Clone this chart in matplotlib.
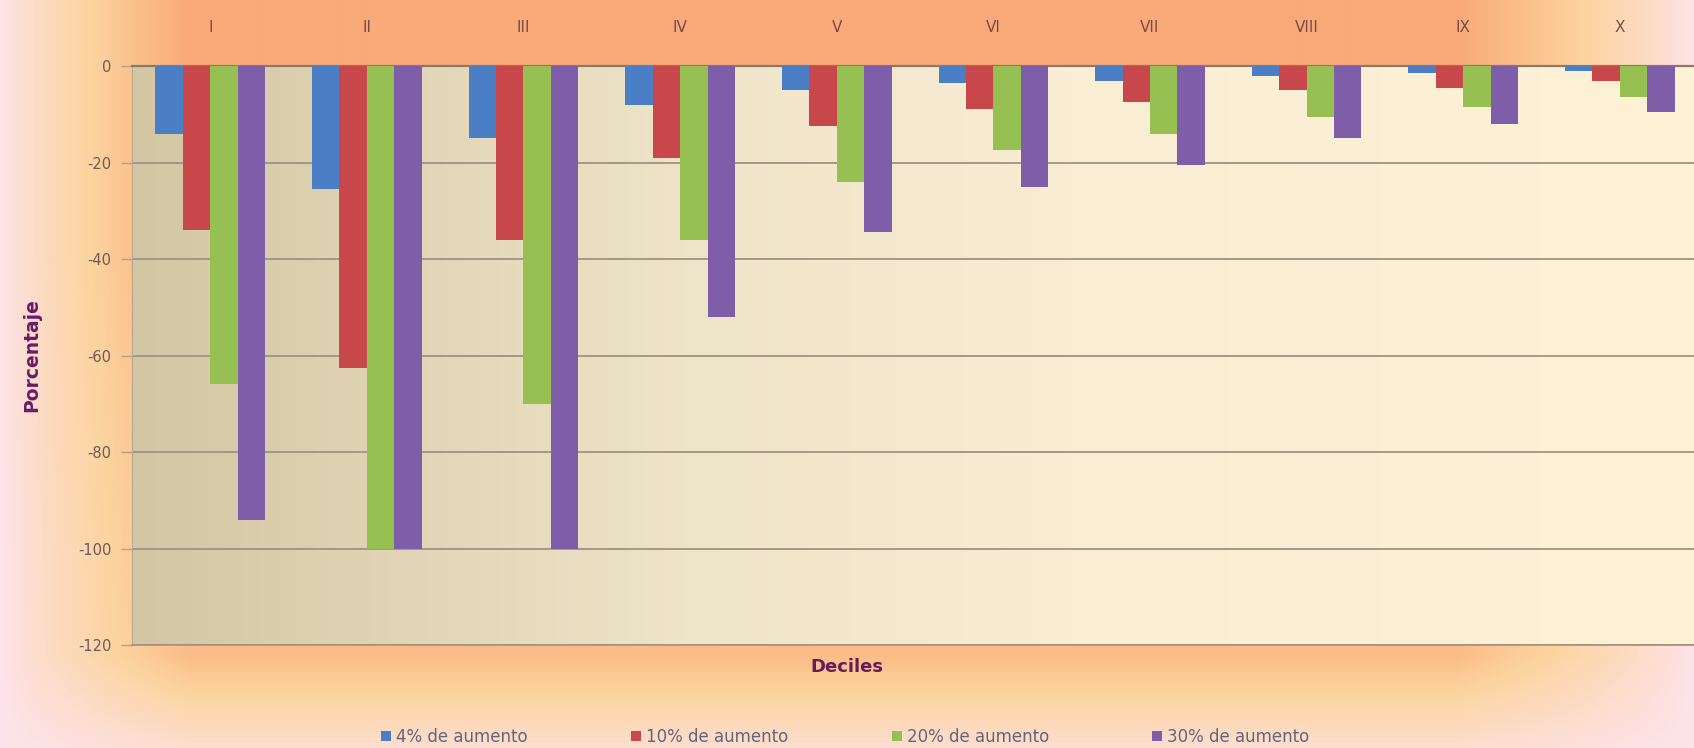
import numpy as np
import matplotlib
matplotlib.use("Agg")
import matplotlib.pyplot as plt
from matplotlib.colors import LinearSegmentedColormap
from matplotlib.patches import Patch

plt.rcParams["font.family"] = ["DejaVu Sans"]

deciles = ["I", "II", "III", "IV", "V", "VI", "VII", "VIII", "IX", "X"]
series_names = ["4% de aumento", "10% de aumento", "20% de aumento", "30% de aumento"]
aumento_4 = [-14, -25.5, -15, -8, -5, -3.5, -3, -2, -1.5, -1]
aumento_10 = [-34, -62.5, -36, -19, -12.5, -9, -7.5, -5, -4.5, -3]
aumento_20 = [-66, -100, -70, -36, -24, -17.5, -14, -10.5, -8.5, -6.5]
aumento_30 = [-94, -100, -100, -52, -34.5, -25, -20.5, -15, -12, -9.5]
y_ticks = [0, -20, -40, -60, -80, -100, -120]

series = [aumento_4, aumento_10, aumento_20, aumento_30]
colors = ["#4a7fc6", "#c8474a", "#97c052", "#7e5ea8"]

W, H = 1694, 748
fig = plt.figure(figsize=(W / 100, H / 100), dpi=100)

# background glow (pink edges -> orange)
bg_cmap = LinearSegmentedColormap.from_list(
    "bg", [(0.0, "#fde4ec"), (0.25, "#fddcc8"), (0.55, "#fcd49e"), (1.0, "#f9aa78")])
xx, yy = np.meshgrid(np.arange(W), np.arange(H))
h = np.clip(np.minimum(xx / 190.0, (W - xx) / 240.0), 0, 1) ** 0.8
v = np.clip((775 - yy) / 120.0, 0, 1) * (1 - 0.2 * np.clip((yy - 250) / 400.0, 0, 1))
bg = bg_cmap(h * v)
bg_ax = fig.add_axes([0, 0, 1, 1], zorder=-10)
bg_ax.imshow(bg, aspect="auto", extent=[0, 1, 0, 1], interpolation="bilinear")
bg_ax.axis("off")

ax = fig.add_axes([0.0779, 0.1377, 0.9245, 0.774])

# plot area gradient
pa_cmap = LinearSegmentedColormap.from_list(
    "pa", [(0.0, "#d3c6a2"), (0.15, "#dfd3b3"), (0.35, "#eee4c8"),
           (0.6, "#f9edd3"), (1.0, "#fdf1d6")])
ax.imshow(np.linspace(0, 1, 256)[None, :], cmap=pa_cmap, aspect="auto",
          extent=[-0.5, 9.5, -120, 0], zorder=0)

x = np.arange(len(deciles))
width = 0.175
for i, (vals, c) in enumerate(zip(series, colors)):
    ax.bar(x + (i - 1.5) * width, vals, width, color=c, zorder=3)

ax.set_xlim(-0.5, 9.5)
ax.set_ylim(-120, 0)
ax.set_yticks(y_ticks)
ax.set_yticklabels([str(t) for t in y_ticks])
ax.yaxis.grid(True, color="#9e9384", linewidth=1.3)
ax.set_axisbelow(True)

ax.xaxis.tick_top()
ax.set_xticks(x)
ax.set_xticklabels(deciles)
ax.tick_params(axis="x", length=0, pad=22, labelsize=11, labelcolor="#7a4a4a")
ax.tick_params(axis="y", length=8, width=1, color="#b0a090", pad=7,
               labelsize=10.5, labelcolor="#6e5a5a")

ax.spines["right"].set_visible(False)
ax.spines["bottom"].set_color("#a89480")
ax.spines["bottom"].set_linewidth(1.3)
ax.spines["top"].set_color("#8a7a6a")
ax.spines["top"].set_linewidth(1.6)
ax.spines["left"].set_color("#b8a890")
ax.spines["left"].set_linewidth(0.8)

ax.set_ylabel("Porcentaje", fontsize=13.5, fontweight="bold", color="#6a1a6a",
              labelpad=26)
fig.text(0.5, 1 - 667 / H, "Deciles", ha="center", va="center", fontsize=13,
         fontweight="bold", color="#6a1a5a")

handles = [Patch(facecolor=c, edgecolor="none") for c in colors]
fig.legend(handles, series_names, loc="center", bbox_to_anchor=(0.499, 1 - 737 / H),
           ncol=4, frameon=False, fontsize=12, handlelength=0.6, handleheight=0.6,
           handletextpad=0.3, columnspacing=6.2, labelcolor="#65657a")

fig.savefig("out.png", dpi=100)
